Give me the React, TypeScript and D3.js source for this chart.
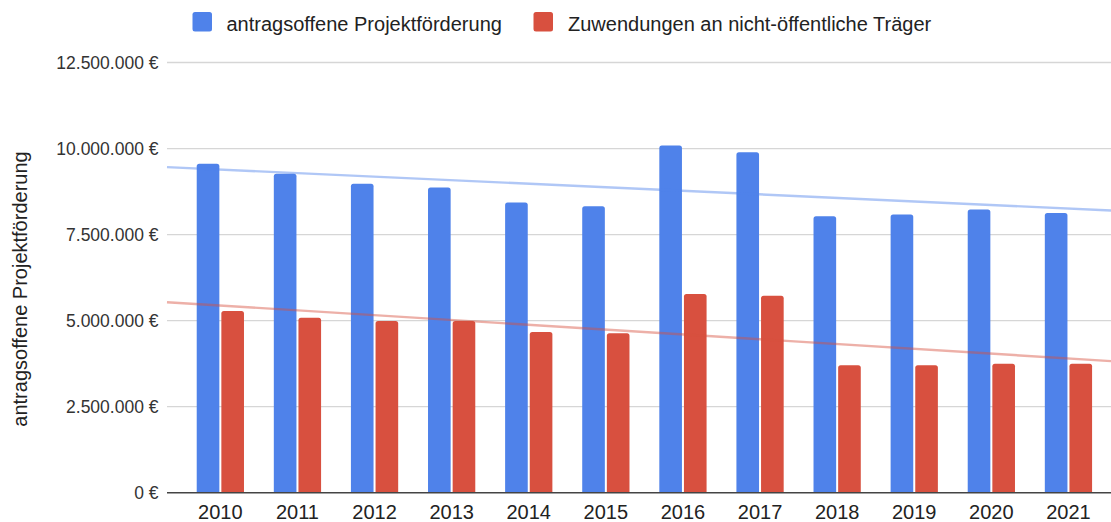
import React from 'react';
import * as d3 from 'd3';

const years = ['2010', '2011', '2012', '2013', '2014', '2015', '2016', '2017', '2018', '2019', '2020', '2021'];
const projektfoerderung = [9560000, 9270000, 8980000, 8870000, 8430000, 8320000, 10090000, 9890000, 8030000, 8080000, 8230000, 8130000];
const zuwendungen = [5280000, 5080000, 4990000, 4990000, 4670000, 4630000, 5770000, 5720000, 3700000, 3700000, 3750000, 3750000];
const yTicks = [0, 2500000, 5000000, 7500000, 10000000, 12500000];
const seriesNames = ['antragsoffene Projektförderung', 'Zuwendungen an nicht-öffentliche Träger'];
const yAxisTitle = 'antragsoffene Projektförderung';

const W = 1111;
const H = 522;
const FONT = '"Liberation Sans", Arial, Helvetica, sans-serif';
const COLORS = ['#4f82ea', '#d8503f'];

const locale = d3.formatLocale({ decimal: ',', thousands: '.', grouping: [3], currency: ['', ' €'] });
const fmt = (v: number) => locale.format(',.0f')(v) + ' €';

function topRounded(x: number, y: number, w: number, h: number, r: number) {
  const rr = Math.min(r, w / 2, h);
  return `M${x},${y + h}V${y + rr}Q${x},${y} ${x + rr},${y}H${x + w - rr}Q${x + w},${y} ${x + w},${y + rr}V${y + h}Z`;
}

function regression(vals: number[]) {
  const n = vals.length;
  const mx = (n - 1) / 2;
  const my = d3.mean(vals) as number;
  let sxy = 0, sxx = 0;
  vals.forEach((v, i) => { sxy += (i - mx) * (v - my); sxx += (i - mx) * (i - mx); });
  const slope = sxy / sxx;
  return (i: number) => my + slope * (i - mx);
}

export default function App() {
  const plotLeft = 167;
  const plotRight = 1111;
  const y = d3.scaleLinear().domain([0, 12500000]).range([492.7, 62.5]);
  const x = d3.scaleBand<string>().domain(years).range([181.8, 1107]).paddingInner(0.387).paddingOuter(0.1935);
  const bw = x.bandwidth();
  const gap = 2;
  const barW = (bw - gap) / 2;
  const step = x.step();
  const center0 = (x(years[0]) as number) + bw / 2;
  const pxToIdx = (px: number) => (px - center0) / step;

  const series = [projektfoerderung, zuwendungen];
  const trends = series.map((s) => regression(s));

  return (
    <svg width={W} height={H} style={{ position: 'absolute', left: 0, top: 0, background: '#fff' }} fontFamily={FONT}>
      <rect width={W} height={H} fill="#fff" />
      {/* gridlines */}
      {yTicks.filter((t) => t > 0).map((t) => (
        <line key={t} x1={plotLeft} x2={plotRight} y1={y(t)} y2={y(t)} stroke="#d6d6d6" strokeWidth={1.3} />
      ))}
      {/* tick labels */}
      {yTicks.map((t) => (
        <text key={'l' + t} x={158.5} y={y(t) + 6} textAnchor="end" fontSize={17.5} fill="#333">{fmt(t)}</text>
      ))}
      {/* y axis title */}
      <text transform={`translate(27,289) rotate(-90)`} textAnchor="middle" fontSize={20} fill="#222">{yAxisTitle}</text>
      {/* bars */}
      {years.map((yr, i) => (
        <g key={yr}>
          {series.map((s, k) => {
            const bx = (x(yr) as number) + k * (barW + gap);
            const top = y(s[i]);
            return <path key={k} d={topRounded(bx, top, barW, y(0) - top, 2.5)} fill={COLORS[k]} />;
          })}
        </g>
      ))}
      {/* trendlines */}
      {trends.map((f, k) => (
        <line key={'t' + k} x1={plotLeft} x2={plotRight}
          y1={y(f(pxToIdx(plotLeft)))} y2={y(f(pxToIdx(plotRight)))}
          stroke={COLORS[k]} strokeOpacity={0.45} strokeWidth={2.4} />
      ))}
      {/* baseline */}
      <line x1={plotLeft} x2={plotRight} y1={y(0)} y2={y(0)} stroke="#444" strokeWidth={1.6} />
      {/* x labels */}
      {years.map((yr) => (
        <text key={'x' + yr} x={(x(yr) as number) + bw / 2} y={519} textAnchor="middle" fontSize={20} fill="#222">{yr}</text>
      ))}
      {/* legend */}
      <rect x={192.5} y={12} width={19.5} height={19.5} rx={2.5} fill={COLORS[0]} />
      <text x={226.5} y={31} fontSize={20} fill="#222">{seriesNames[0]}</text>
      <rect x={533.5} y={12} width={19.5} height={19.5} rx={2.5} fill={COLORS[1]} />
      <text x={568} y={31} fontSize={20} fill="#222">{seriesNames[1]}</text>
    </svg>
  );
}
